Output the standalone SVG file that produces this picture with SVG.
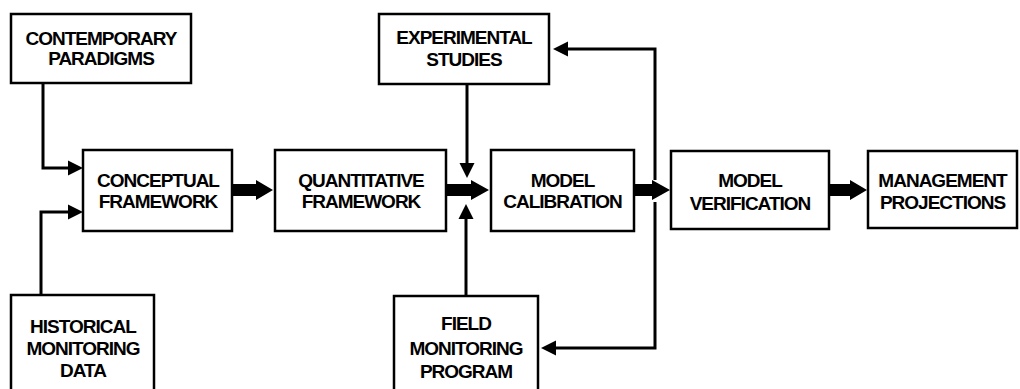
<svg xmlns="http://www.w3.org/2000/svg" width="1020" height="389" viewBox="0 0 1020 389">
<style>
.box{fill:#fff;stroke:#000;stroke-width:2.5}
.t{font-family:"Liberation Sans",Arial,sans-serif;font-weight:bold;font-size:19px;letter-spacing:-1px;text-anchor:middle;fill:#000}
.ln{fill:none;stroke:#000;stroke-width:3}
.thick{fill:#000}
</style>
<defs>
<marker id="ah" markerUnits="userSpaceOnUse" markerWidth="16" markerHeight="16" refX="0" refY="8" orient="auto" viewBox="0 0 16 16">
<path d="M0,0.5 L15,8 L0,15.5 z" fill="#000"/>
</marker>
</defs>
<rect width="1020" height="389" fill="#fff"/>
<g id="connectors">
<path class="ln" d="M43,83 V168 H68" marker-end="url(#ah)"/>
<path class="ln" d="M41,295 V212 H68" marker-end="url(#ah)"/>
<path class="ln" d="M467,84 V163" marker-end="url(#ah)"/>
<path class="ln" d="M466,296 V219" marker-end="url(#ah)"/>
<path class="ln" d="M655,180 V49 H568" marker-end="url(#ah)"/>
<path class="ln" d="M655,202 V348 H556" marker-end="url(#ah)"/>
<polygon class="thick" points="232,184 256,184 256,180 273,190 256,200 256,196 232,196"/>
<polygon class="thick" points="446,184 471,184 471,180 489,190 471,200 471,196 446,196"/>
<polygon class="thick" points="634,184 652,184 652,180 670,190 652,200 652,196 634,196"/>
<polygon class="thick" points="829,184 850,184 850,180 867,190 850,200 850,196 829,196"/>
</g>
<g id="contemporary-paradigms">
<rect class="box" x="11" y="14" width="180" height="69"/>
<text class="t" x="101" y="44.5">CONTEMPORARY</text>
<text class="t" x="101" y="64.5">PARADIGMS</text>
</g>
<g id="conceptual-framework">
<rect class="box" x="83" y="150" width="149" height="81"/>
<text class="t" x="158" y="187">CONCEPTUAL</text>
<text class="t" x="158" y="208">FRAMEWORK</text>
</g>
<g id="historical-monitoring-data">
<rect class="box" x="11" y="295" width="143" height="100"/>
<text class="t" x="83" y="333">HISTORICAL</text>
<text class="t" x="83" y="355">MONITORING</text>
<text class="t" x="83" y="377">DATA</text>
</g>
<g id="quantitative-framework">
<rect class="box" x="275" y="150" width="171" height="81"/>
<text class="t" x="361" y="187">QUANTITATIVE</text>
<text class="t" x="361" y="208">FRAMEWORK</text>
</g>
<g id="experimental-studies">
<rect class="box" x="379" y="14" width="170" height="70"/>
<text class="t" x="464" y="44">EXPERIMENTAL</text>
<text class="t" x="464" y="65.5">STUDIES</text>
</g>
<g id="model-calibration">
<rect class="box" x="491" y="150" width="143" height="81"/>
<text class="t" x="562.5" y="187">MODEL</text>
<text class="t" x="562.5" y="208">CALIBRATION</text>
</g>
<g id="field-monitoring-program">
<rect class="box" x="394" y="296" width="144" height="100"/>
<text class="t" x="466" y="330">FIELD</text>
<text class="t" x="466" y="355">MONITORING</text>
<text class="t" x="466" y="378">PROGRAM</text>
</g>
<g id="model-verification">
<rect class="box" x="671" y="151" width="158" height="78"/>
<text class="t" x="750" y="187">MODEL</text>
<text class="t" x="750" y="210">VERIFICATION</text>
</g>
<g id="management-projections">
<rect class="box" x="868" y="151" width="149" height="77"/>
<text class="t" x="942.5" y="187">MANAGEMENT</text>
<text class="t" x="942.5" y="209">PROJECTIONS</text>
</g>
</svg>
